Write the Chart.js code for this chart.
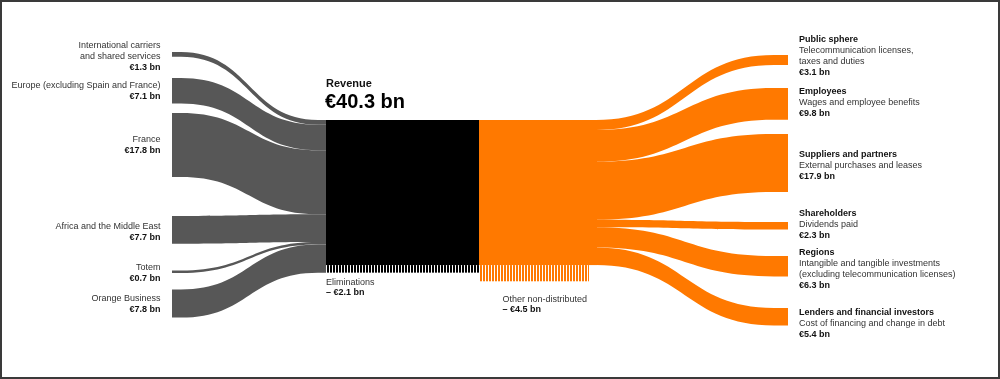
<!DOCTYPE html>
<html>
<head>
<meta charset="utf-8">
<script src="https://cdn.jsdelivr.net/npm/chart.js@4/dist/chart.umd.min.js"></script>
<style>
  html, body { margin: 0; padding: 0; background: #fff; }
  canvas { display: block; }
</style>
</head>
<body>
<canvas id="chart" width="1000" height="379"></canvas>
<script>
// ---- data (€ bn) ----
const sourceLabels = [
  ['International carriers', 'and shared services'],
  ['Europe (excluding Spain and France)'],
  ['France'],
  ['Africa and the Middle East'],
  ['Totem'],
  ['Orange Business']
];
const sourceValues = [1.3, 7.1, 17.8, 7.7, 0.7, 7.8];

const useTitles = ['Public sphere', 'Employees', 'Suppliers and partners', 'Shareholders', 'Regions', 'Lenders and financial investors'];
const useDetails = [
  ['Telecommunication licenses,', 'taxes and duties'],
  ['Wages and employee benefits'],
  ['External purchases and leases'],
  ['Dividends paid'],
  ['Intangible and tangible investments', '(excluding telecommunication licenses)'],
  ['Cost of financing and change in debt']
];
const useValues = [3.1, 9.8, 17.9, 2.3, 6.3, 5.4];

const revenue = 40.3;
const eliminations = 2.1;
const otherNonDistributed = 4.5;

// ---- layout (axis units) ----
const PER_BN = 3.6;
const sourceX = 172, leftCurve = [181, 318], revX0 = 326, revX1 = 479;
const rightCurve = [596, 774], useX = 788, hatchX1 = 589;
const revTop = 120;
const sourceTops = [52, 78, 113, 216, 270.5, 289.5];
const useTops = [55, 88, 134, 222, 256, 308];
const sourceLabelY = [46, 86, 140, 226.7, 267.7, 298.7];
const useLabelY = [40, 91.7, 154.7, 214, 252.7, 312.7];
const LINE = 10.8;

const GREY = '#575757', ORANGE = '#ff7900';
const FONT = '"Liberation Sans", Arial, Helvetica, sans-serif';

function stripes(ctx, color, on, period) {
  const c = document.createElement('canvas');
  c.width = period; c.height = 4;
  const g = c.getContext('2d');
  g.fillStyle = color;
  g.fillRect(0, 0, on, 4);
  return ctx.createPattern(c, 'repeat');
}

const sankeyPlugin = {
  id: 'sankey',
  beforeDatasetsDraw(chart) {
    const ctx = chart.ctx;
    const sx = (v) => chart.scales.x.getPixelForValue(v);
    const sy = (v) => chart.scales.y.getPixelForValue(v);

    // ribbon: flat from xa to c0, S-curve c0..c1, flat to xb
    const ribbon = (xa, c0, c1, xb, t0, b0, t1, b1, color) => {
      const C0 = sx(c0), C1 = sx(c1), Cm = (C0 + C1) / 2;
      ctx.beginPath();
      ctx.moveTo(sx(xa), sy(t0));
      ctx.lineTo(C0, sy(t0));
      ctx.bezierCurveTo(Cm, sy(t0), Cm, sy(t1), C1, sy(t1));
      ctx.lineTo(sx(xb), sy(t1));
      ctx.lineTo(sx(xb), sy(b1));
      ctx.lineTo(C1, sy(b1));
      ctx.bezierCurveTo(Cm, sy(b1), Cm, sy(b0), C0, sy(b0));
      ctx.lineTo(sx(xa), sy(b0));
      ctx.closePath();
      ctx.fillStyle = color;
      ctx.fill();
    };
    const rect = (x0, x1, t, b, fill) => {
      ctx.fillStyle = fill;
      ctx.fillRect(sx(x0), sy(t), sx(x1) - sx(x0), sy(b) - sy(t));
    };

    ctx.save();
    // left: sources into revenue
    let y = revTop;
    sourceValues.forEach((v, i) => {
      const h = v * PER_BN;
      ribbon(sourceX, leftCurve[0], leftCurve[1], revX0, sourceTops[i], sourceTops[i] + h, y, y + h, GREY);
      y += h;
    });

    // revenue block + eliminations
    const revBottom = revTop + revenue * PER_BN;
    rect(revX0, revX1, revTop, revBottom, '#000');
    rect(revX0, revX1, revBottom, revBottom + eliminations * PER_BN, stripes(ctx, '#000', 2, 3));

    // orange distribution block + other non-distributed
    rect(revX1, rightCurve[0] + 1, revTop, revBottom, ORANGE);
    rect(revX1, hatchX1, revBottom, revBottom + otherNonDistributed * PER_BN, stripes(ctx, ORANGE, 2, 3));

    // right: uses
    const total = useValues.reduce((a, b) => a + b, 0);
    const k = PER_BN * revenue / total;
    y = revTop;
    useValues.forEach((v, i) => {
      const h = v * k;
      ribbon(rightCurve[0], rightCurve[0], rightCurve[1], useX, y, y + h, useTops[i], useTops[i] + h, ORANGE);
      y += h;
    });
    ctx.restore();
  },
  afterDraw(chart) {
    const ctx = chart.ctx;
    const sx = (v) => chart.scales.x.getPixelForValue(v);
    const sy = (v) => chart.scales.y.getPixelForValue(v);
    const txt = (s, x, yy, bold, size, color, align) => {
      ctx.font = (bold ? 'bold ' : '') + size + 'px ' + FONT;
      ctx.fillStyle = color;
      ctx.textAlign = align || 'left';
      ctx.textBaseline = 'middle';
      ctx.fillText(s, sx(x), sy(yy));
    };
    ctx.save();

    sourceLabels.forEach((lines, i) => {
      let yy = sourceLabelY[i];
      lines.forEach((l) => { txt(l, 160.5, yy, false, 9, '#333', 'right'); yy += LINE; });
      txt('€' + sourceValues[i].toFixed(1) + ' bn', 160.5, yy, true, 9, '#111', 'right');
    });

    useTitles.forEach((t, i) => {
      let yy = useLabelY[i];
      txt(t, 799, yy, true, 9, '#111');
      yy += LINE;
      useDetails[i].forEach((l) => { txt(l, 799, yy, false, 9, '#333'); yy += LINE; });
      txt('€' + useValues[i].toFixed(1) + ' bn', 799, yy, true, 9, '#111');
    });

    txt('Revenue', 326, 84, true, 11, '#111');
    txt('€' + revenue.toFixed(1) + ' bn', 325, 102, true, 20, '#000');
    txt('Eliminations', 326, 282.7, false, 9, '#333');
    txt('– €' + eliminations.toFixed(1) + ' bn', 326, 293, true, 9, '#111');
    txt('Other non-distributed', 502.5, 299.3, false, 9, '#333');
    txt('– €' + otherNonDistributed.toFixed(1) + ' bn', 502.5, 309.6, true, 9, '#111');

    // frame
    ctx.strokeStyle = '#3a3a3a';
    ctx.lineWidth = 2;
    ctx.strokeRect(1, 1, chart.width - 2, chart.height - 2);
    ctx.restore();
  }
};

new Chart(document.getElementById('chart'), {
  type: 'scatter',
  data: { datasets: [{ data: [] }] },
  options: {
    responsive: false,
    animation: false,
    events: [],
    layout: { padding: 0 },
    plugins: { legend: { display: false }, tooltip: { enabled: false } },
    scales: {
      x: { type: 'linear', min: 0, max: 1000, display: false },
      y: { type: 'linear', min: 0, max: 379, reverse: true, display: false }
    }
  },
  plugins: [sankeyPlugin]
});
</script>
</body>
</html>
